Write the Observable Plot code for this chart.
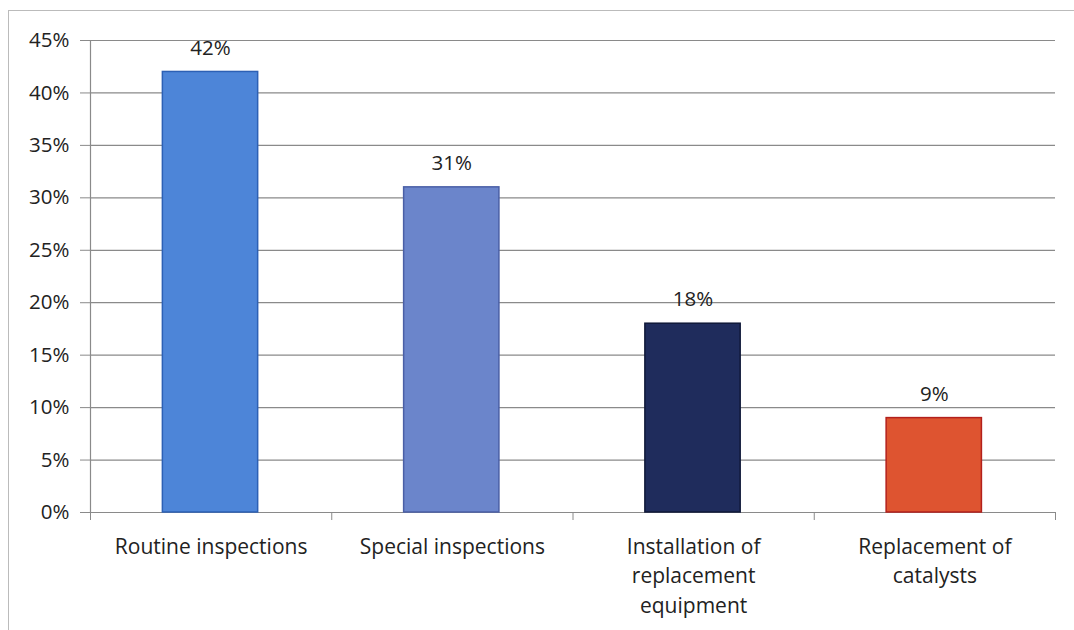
<!DOCTYPE html>
<html>
<head>
<meta charset="utf-8">
<script src="https://cdn.jsdelivr.net/npm/d3@7"></script>
<script src="https://cdn.jsdelivr.net/npm/@observablehq/plot@0.6"></script>
<style>
  html, body { margin: 0; padding: 0; background: #fff; }
  #wrap { position: relative; width: 1074px; height: 630px; overflow: hidden; }
  #frame { position: absolute; left: 8px; top: 10px; width: 1070px; height: 640px; border-left: 1px solid #bbb; border-top: 1px solid #bbb; }
  #chart { position: absolute; left: 0; top: 0; }
  text { font-family: "Open Sans", sans-serif; }
</style>
</head>
<body>
<div id="wrap"><div id="frame"></div><div id="chart"></div></div>
<script>
const categories = ["Routine inspections", "Special inspections", "Installation of\nreplacement\nequipment", "Replacement of\ncatalysts"];
const values = [42, 31, 18, 9];
const labels = ["42%", "31%", "18%", "9%"];
const fills = ["#4d85d8", "#6b85cb", "#1f2c5c", "#de5430"];
const strokes = ["#2c60b5", "#4a5fa6", "#0f1838", "#b3201c"];
const yTicks = [0, 5, 10, 15, 20, 25, 30, 35, 40, 45];

const data = categories.map((c, i) => ({
  cat: c, i, value: values[i], label: labels[i], fill: fills[i], stroke: strokes[i]
}));

const chart = Plot.plot({
  width: 1074,
  height: 630,
  marginLeft: 90,
  marginRight: 19,
  marginTop: 40,
  marginBottom: 118,
  style: { fontFamily: "'Open Sans', sans-serif", color: "#222", background: "transparent" },
  x: { domain: [0, 4], axis: null },
  y: { domain: [0, 45], axis: null },
  marks: [
    Plot.ruleY(yTicks, { stroke: "#8a8a8a", strokeWidth: 1.2, strokeOpacity: 1 }),
    Plot.axisY({ ticks: yTicks, tickSize: 10, tickFormat: d => d + "%", label: null, fontSize: 20.5, tickPadding: 11, stroke: "#8a8a8a", color: "#222" }),
    Plot.ruleX([0], { y1: 0, y2: 45, stroke: "#8a8a8a", strokeWidth: 1.2 }),
    Plot.axisX({ ticks: [0, 1, 2, 3, 4], tickSize: 8, tickFormat: () => "", label: null, stroke: "#8a8a8a" }),
    Plot.axisX({ ticks: [0.5, 1.5, 2.5, 3.5], tickSize: 0, tickPadding: 20, label: null,
      tickFormat: d => categories[Math.floor(d)], fontSize: 21, lineHeight: 1.41, color: "#222" }),
    Plot.rectY(data, { x1: d => d.i + 0.3, x2: d => d.i + 0.695, y1: 0, y2: "value",
      fill: d => d.fill, stroke: d => d.stroke, strokeWidth: 1.5 }),
    Plot.text(data, { x: d => d.i + 0.4975, y: "value", text: "label", dy: -24, fontSize: 20.5, fill: "#222" })
  ]
});
document.getElementById("chart").appendChild(chart);
</script>
</body>
</html>
